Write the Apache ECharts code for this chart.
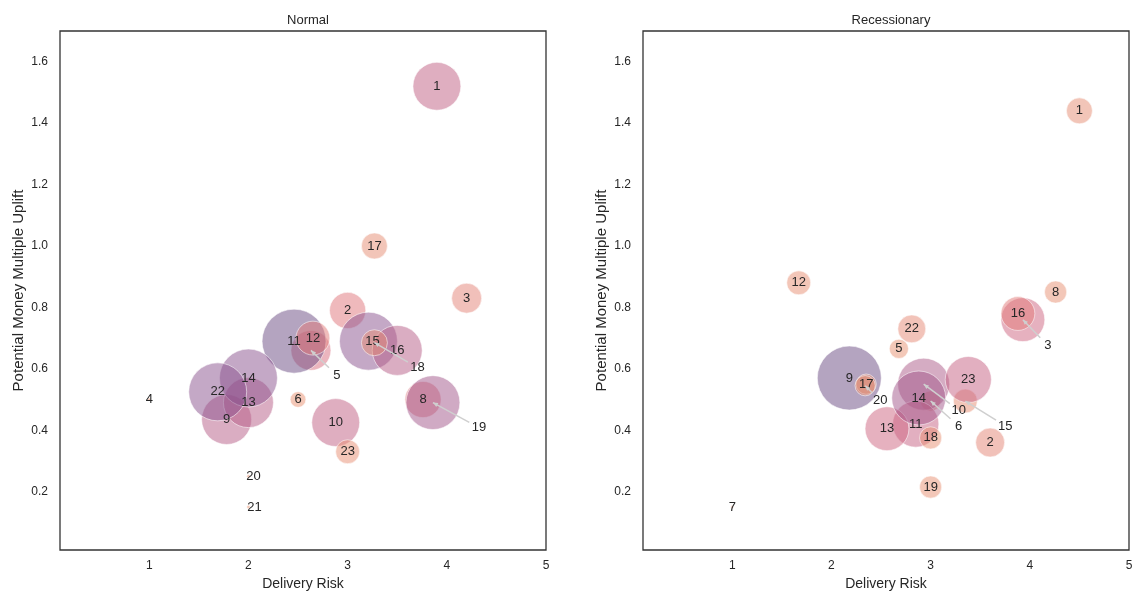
<!DOCTYPE html>
<html>
<head>
<meta charset="utf-8">
<script src="https://cdn.jsdelivr.net/npm/echarts@6/dist/echarts.min.js"></script>
<style>
  html, body { margin: 0; padding: 0; background: #fff; }
  #chart { width: 1137px; height: 596px; }
</style>
</head>
<body>
<div id="chart"></div>
<script>
// Project ids, delivery risk (x), potential money multiple uplift (y) and weight (bubble size)
const normalIds    = [1, 2, 3, 4, 5, 6, 8, 9, 10, 11, 12, 13, 14, 15, 16, 17, 18, 19, 20, 21, 22, 23];
const normalRisk   = [3.90, 3.00, 4.20, 1.00, 2.63, 2.50, 3.76, 1.78, 2.88, 2.46, 2.65, 2.00, 2.00, 3.21, 3.50, 3.27, 3.27, 3.86, 2.00, 2.00, 1.69, 3.00];
const normalUplift = [1.52, 0.79, 0.83, 0.50, 0.66, 0.50, 0.50, 0.435, 0.425, 0.69, 0.70, 0.49, 0.57, 0.69, 0.66, 1.00, 0.685, 0.49, 0.25, 0.15, 0.525, 0.33];
const normalWeight = [56, 32, 22, 0.2, 39, 6, 32, 61, 56, 100, 28, 61, 82, 82, 61, 16.5, 16.5, 71, 0.3, 0.3, 82, 14];

const recessIds    = [1, 2, 3, 5, 6, 7, 8, 9, 10, 11, 12, 13, 14, 15, 16, 17, 18, 19, 20, 22, 23];
const recessRisk   = [4.50, 3.60, 3.93, 2.68, 3.00, 1.00, 4.26, 2.18, 2.93, 2.85, 1.67, 2.56, 2.88, 3.35, 3.88, 2.35, 3.00, 3.00, 2.34, 2.81, 3.38];
const recessUplift = [1.44, 0.36, 0.76, 0.665, 0.495, 0.15, 0.85, 0.57, 0.55, 0.42, 0.88, 0.405, 0.505, 0.495, 0.78, 0.55, 0.375, 0.215, 0.545, 0.73, 0.565];
const recessWeight = [16.5, 20.5, 47, 9, 10, 0.2, 12, 100, 66, 52, 14, 47, 71, 14, 28, 10, 12, 12, 10, 19, 52];

const panelTitles = ['Normal', 'Recessionary'];
const xTicks = [1, 2, 3, 4, 5];
const yTicks = [0.2, 0.4, 0.6, 0.8, 1.0, 1.2, 1.4, 1.6];

// Label displacement (px) for crowded labels; leader lines are drawn for those flagged
const labelShift = [
  { 5: [26, 25, 1], 18: [43, 25, 1], 19: [46, 25, 1], 20: [5, 0, 0], 21: [6, 0, 0], 15: [4, 0, 0] },
  { 3: [25, 26, 1], 10: [35, 26, 1], 6: [28, 25, 1], 15: [40, 25, 1], 20: [15, 15, 1] }
];

const FONT = '"Liberation Sans", Arial, "DejaVu Sans", sans-serif';
const INK = '#262626';
const FILL_ALPHA = 0.5;

// weight -> colour (peach -> pink -> purple)
const colorStops = [
  [0,   [234, 150, 115]],
  [15,  [231, 141, 113]],
  [35,  [221, 110, 124]],
  [55,  [194, 94, 130]],
  [80,  [142, 82, 142]],
  [100, [105, 73, 129]]
];
function weightColor(w) {
  let c = colorStops[colorStops.length - 1][1];
  for (let i = 1; i < colorStops.length; i++) {
    const [w1, c1] = colorStops[i];
    const [w0, c0] = colorStops[i - 1];
    if (w <= w1) {
      const t = (w - w0) / (w1 - w0);
      c = c0.map((v, k) => Math.round(v + (c1[k] - v) * t));
      break;
    }
  }
  return 'rgba(' + c.join(',') + ',' + FILL_ALPHA + ')';
}
function bubbleDiameter(w) { return Math.max(2, 6.4 * Math.sqrt(w)); }

const panels = [
  { ids: normalIds, x: normalRisk, y: normalUplift, w: normalWeight },
  { ids: recessIds, x: recessRisk, y: recessUplift, w: recessWeight }
];
const gridLefts = [60, 643];

const chart = echarts.init(document.getElementById('chart'), null, { renderer: 'canvas' });

const option = {
  backgroundColor: '#fff',
  animation: false,
  textStyle: { fontFamily: FONT },
  title: panelTitles.map((t, i) => ({
    text: t,
    left: gridLefts[i] + 243,
    top: 9,
    textAlign: 'center',
    textStyle: { fontFamily: FONT, fontSize: 13, fontWeight: 'normal', color: INK }
  })),
  grid: gridLefts.map(l => ({
    left: l, top: 31, width: 486, height: 521,
    show: true, borderColor: '#333', borderWidth: 1.3, backgroundColor: 'transparent'
  })),
  xAxis: gridLefts.map((l, i) => ({
    type: 'value', gridIndex: i, min: 0.1, max: 5,
    name: 'Delivery Risk', nameLocation: 'middle', nameGap: 27,
    nameTextStyle: { fontFamily: FONT, fontSize: 14, color: INK },
    axisLine: { show: false }, axisTick: { show: false }, splitLine: { show: false },
    axisLabel: { customValues: xTicks, margin: 10, fontFamily: FONT, fontSize: 12, color: INK,
                 formatter: v => String(Math.round(v)) }
  })),
  yAxis: gridLefts.map((l, i) => ({
    type: 'value', gridIndex: i, min: 0.01, max: 1.7,
    name: 'Potential Money Multiple Uplift', nameLocation: 'middle', nameGap: 34, nameRotate: 90,
    nameTextStyle: { fontFamily: FONT, fontSize: 15, color: INK },
    axisLine: { show: false }, axisTick: { show: false }, splitLine: { show: false },
    axisLabel: { customValues: yTicks, margin: 12, fontFamily: FONT, fontSize: 12, color: INK,
                 formatter: v => v.toFixed(1) }
  })),
  series: panels.map((p, i) => ({
    type: 'scatter',
    xAxisIndex: i, yAxisIndex: i,
    data: p.ids.map((id, k) => ({
      value: [p.x[k], p.y[k], p.w[k]],
      name: String(id),
      symbolSize: bubbleDiameter(p.w[k]),
      itemStyle: { color: weightColor(p.w[k]) }
    })),
    itemStyle: { opacity: 1, borderColor: 'rgba(255,255,255,0.55)', borderWidth: 1 },
    label: {
      show: true, position: 'inside', formatter: '{b}',
      fontFamily: FONT, fontSize: 13, color: INK
    },
    labelLayout: function (params) {
      const id = p.ids[params.dataIndex];
      const s = labelShift[i][id];
      return s ? { dx: s[0], dy: s[1] } : {};
    },
    emphasis: { disabled: true }
  }))
};
chart.setOption(option);

// leader lines with small arrow heads pointing back to the bubble centre
const graphics = [];
panels.forEach((p, i) => {
  p.ids.forEach((id, k) => {
    const s = labelShift[i][id];
    if (!s || !s[2]) return;
    const pt = chart.convertToPixel({ gridIndex: i }, [p.x[k], p.y[k]]);
    const lx = pt[0] + s[0], ly = pt[1] + s[1];
    const len = Math.hypot(s[0], s[1]);
    const ux = s[0] / len, uy = s[1] / len;
    const ex = lx - ux * 11, ey = ly - uy * 11;
    graphics.push({
      type: 'line', z: 100,
      shape: { x1: pt[0], y1: pt[1], x2: ex, y2: ey },
      style: { stroke: '#cfcfcf', lineWidth: 1.5 }
    });
    const hl = 5, hw = 2.2;
    graphics.push({
      type: 'polygon', z: 100,
      shape: { points: [
        [pt[0], pt[1]],
        [pt[0] + ux * hl - uy * hw, pt[1] + uy * hl + ux * hw],
        [pt[0] + ux * hl + uy * hw, pt[1] + uy * hl - ux * hw]
      ] },
      style: { fill: '#cfcfcf' }
    });
  });
});
chart.setOption({ graphic: graphics });
</script>
</body>
</html>
